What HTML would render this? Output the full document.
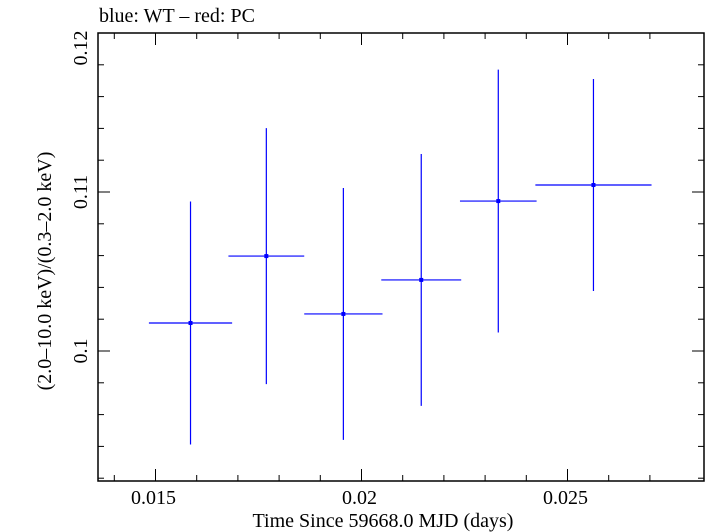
<!DOCTYPE html>
<html><head><meta charset="utf-8"><style>
body{margin:0;background:#fff;}
svg{display:block;font-family:"Liberation Serif",serif;}
</style></head><body>
<svg id="chart" width="705" height="532" viewBox="0 0 705 532" xmlns="http://www.w3.org/2000/svg">
<text x="99" y="22" font-size="20">blue: WT – red: PC</text>
<rect x="98" y="33" width="606" height="448" fill="none" stroke="#000" stroke-width="1.5"/>
<g id="axes"></g>
<g id="marks"></g>
<text x="383" y="527" font-size="20" text-anchor="middle">Time Since 59668.0 MJD (days)</text>
<text transform="translate(51,271) rotate(-90)" font-size="20" text-anchor="middle">(2.0–10.0 keV)/(0.3–2.0 keV)</text>
</svg>
<script>
const times = [0.01585, 0.01769, 0.01956, 0.02145, 0.02332, 0.02563];
const timeErr = [0.00101, 0.00092, 0.00095, 0.00097, 0.00093, 0.00141];
const ratios = [0.10176, 0.10597, 0.10233, 0.10447, 0.10943, 0.11044];
const ratioErr = [0.00764, 0.00805, 0.00792, 0.00792, 0.00827, 0.00667];
const xTickLabels = ["0.015", "0.02", "0.025"];
const xTickValues = [0.015, 0.02, 0.025];
const yTickLabels = ["0.1", "0.11", "0.12"];
const yTickValues = [0.10, 0.11, 0.12];

const NS = "http://www.w3.org/2000/svg";
const L = 98, R = 704, T = 33, B = 481;
function xs(v){ return 155.5 + (v - 0.015) * 41200; }
function ys(v){ return 33 + (0.12 - v) * 15900; }
function mk(tag, attrs, parent){
  const e = document.createElementNS(NS, tag);
  for (const k in attrs) e.setAttribute(k, attrs[k]);
  parent.appendChild(e); return e;
}
const axes = document.getElementById('axes');
const marks = document.getElementById('marks');
for (let i = 0; i < 14; i++) {
  const v = 0.014 + i * 0.001;
  const x = xs(v);
  if (x < L || x > R) continue;
  const major = Math.abs(v * 200 - Math.round(v * 200)) < 1e-6;
  const len = major ? 12 : 6;
  const t1 = mk('line', {x1:x, x2:x, y1:B, y2:B-len, stroke:'#000', 'stroke-width':1}, axes);
  
  
  const t2 = mk('line', {x1:x, x2:x, y1:T, y2:T+len, stroke:'#000', 'stroke-width':1}, axes);
  
  
}
xTickValues.forEach((v, i) => {
  const t = mk('text', {x:xs(v) - 2, y:504, 'font-size':20, 'text-anchor':'middle'}, axes);
  t.textContent = xTickLabels[i];
  
  
});
for (let i = 0; i < 20; i++) {
  const v = 0.090 + i * 0.002;
  const y = ys(v);
  if (y < T - 0.5 || y > B) continue;
  const major = Math.abs(v * 100 - Math.round(v * 100)) < 1e-6;
  const len = major ? 12 : 6;
  const t1 = mk('line', {x1:L, x2:L+len, y1:y, y2:y, stroke:'#000', 'stroke-width':1}, axes);
  
  
  const t2 = mk('line', {x1:R, x2:R-len, y1:y, y2:y, stroke:'#000', 'stroke-width':1}, axes);
  
  
}
yTickValues.forEach((v, i) => {
  const y = ys(v);
  const t = mk('text', {transform:`translate(87,${v===0.12?48:y}) rotate(-90)`, 'font-size':20, 'text-anchor':'middle'}, axes);
  t.textContent = yTickLabels[i];
  
  
});
times.forEach((t, i) => {
  const g = mk('g', {}, marks);
  
  
  const cx = xs(t), cy = ys(ratios[i]);
  const h = mk('line', {x1:xs(t - timeErr[i]), x2:xs(t + timeErr[i]), y1:cy, y2:cy, stroke:'#0000ff', 'stroke-width':1.2}, g);
  
  
  const v = mk('line', {x1:cx, x2:cx, y1:ys(ratios[i] + ratioErr[i]), y2:ys(ratios[i] - ratioErr[i]), stroke:'#0000ff', 'stroke-width':1.2}, g);
  
  
  const d = mk('rect', {x:cx-2, y:cy-2, width:4, height:4, fill:'#0000ff'}, g);
  
  
});
</script>
</body></html>
